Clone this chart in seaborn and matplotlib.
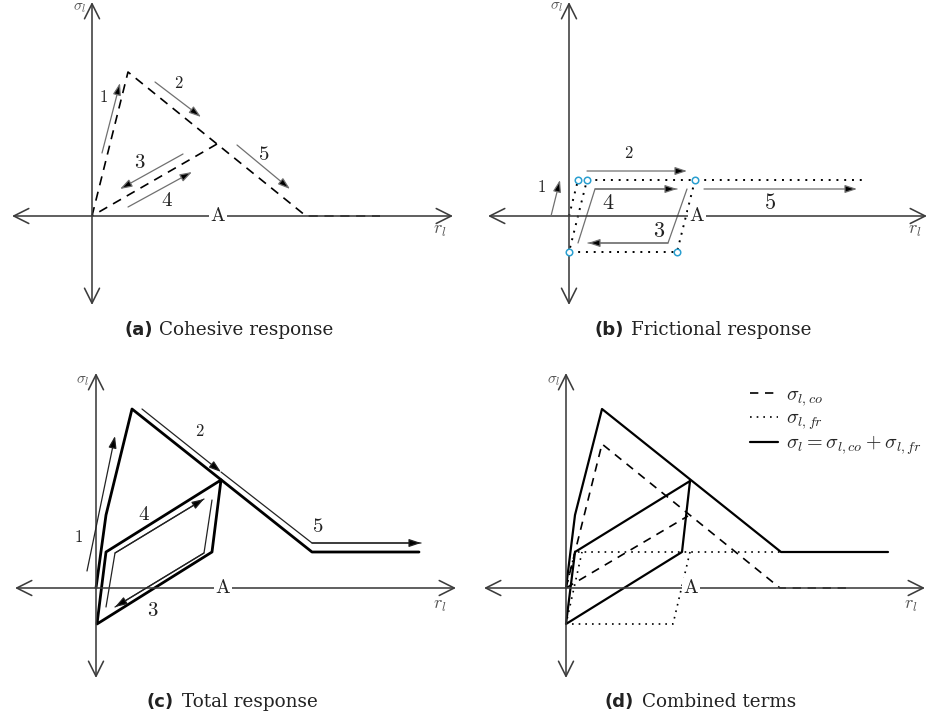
import matplotlib
matplotlib.use("Agg")
import matplotlib.pyplot as plt
import seaborn as sns

sns.set_theme(style="white")
plt.rcParams["mathtext.fontset"] = "cm"
plt.rcParams["font.family"] = ["DejaVu Serif"]

# ---------------- data (model units, origin at axis crossing) ----------------
# (a) cohesive response
coh_r = [0, 3.6, 21.4, 28.8]
coh_s = [0, 14.4, 0, 0]
coh_unl_r = [12.5, 0]
coh_unl_s = [7.2, 0]

# (b) frictional response
fr_load_r = [0, 0.9, 29.4]
fr_load_s = [0, 3.6, 3.6]
fr_cyc_r = [12.6, 10.8, 0, 1.8]
fr_cyc_s = [3.6, -3.6, -3.6, 3.6]
fr_pts_r = [0.9, 1.8, 12.6, 0, 10.8]
fr_pts_s = [3.6, 3.6, 3.6, -3.6, -3.6]

# (c) total response
tot_r = [0, 1.0, 3.6, 21.6, 32.3]
tot_s = [0, 7.3, 17.9, 3.6, 3.6]
tot_cyc_r = [12.5, 11.6, 0.1, 1.0, 12.5]
tot_cyc_s = [10.8, 3.6, -3.6, 3.6, 10.8]

# (d) combined terms
d_tot_r = [0, 0.9, 3.6, 21.5, 32.2]
d_tot_s = [0, 7.3, 17.9, 3.6, 3.6]
d_cyc_r = [12.4, 11.6, 0, 0.9, 12.4]
d_cyc_s = [10.7, 3.6, -3.6, 3.6, 10.7]
d_coh_r = [0, 3.6, 21.4, 28.6]
d_coh_s = [0, 14.4, 0, 0]
d_coh_unl_r = [0, 12.2]
d_coh_unl_s = [0, 7.2]
d_fr_r = [0, 0.9, 21.5]
d_fr_s = [0, 3.6, 3.6]
d_fr_cyc_r = [12.4, 10.7, 0, 1.6]
d_fr_cyc_s = [3.6, -3.6, -3.6, 3.6]

legend_labels = [r"$\sigma_{l,co}$", r"$\sigma_{l,fr}$",
                 r"$\sigma_l = \sigma_{l,co} + \sigma_{l,fr}$"]
captions = [("(a)", "Cohesive response"), ("(b)", "Frictional response"),
            ("(c)", "Total response"), ("(d)", "Combined terms")]

# path annotations: (x list, y list, label, label pos, size)
arrows_a = [([1.0, 2.8], [6.3, 13.3], "1", (1.1, 11.9), 12),
            ([6.3, 10.9], [13.4, 9.9], "2", (8.7, 13.2), 12),
            ([9.1, 2.8], [6.2, 2.7], "3", (4.8, 5.3), 15),
            ([3.6, 10.0], [0.9, 4.4], "4", (7.5, 1.6), 15),
            ([14.5, 19.8], [7.1, 2.7], "5", (17.2, 6.1), 15)]
arrows_b = [([-1.8, -0.9], [0, 3.6], "1", (-2.8, 2.9), 12),
            ([1.8, 11.8], [4.5, 4.5], "2", (6.0, 6.2), 12),
            ([11.8, 9.9, 1.9], [2.7, -2.7, -2.7], "3", (9.0, -1.5), 16),
            ([0.9, 2.6, 10.8], [-2.7, 2.7, 2.7], "4", (3.9, 1.3), 16),
            ([13.5, 28.8], [2.7, 2.7], "5", (20.1, 1.3), 16)]
arrows_c = [([-0.9, 1.9], [1.7, 15.2], "1", (-1.8, 5.0), 12),
            ([4.6, 12.5], [17.9, 11.6], "2", (10.4, 15.7), 12),
            ([12.5, 21.6, 32.5], [11.6, 4.5, 4.5], "5", (22.2, 6.1), 15),
            ([11.6, 10.8, 1.9], [8.8, 3.5, -1.9], "3", (5.7, -2.3), 15),
            ([1.0, 1.9, 10.8], [-1.9, 3.5, 8.9], "4", (4.8, 7.4), 15)]

# ---------------- figure ----------------
W, H = 927, 722
fig = plt.figure(figsize=(W / 100, H / 100), dpi=100)
SC = 10.0


def make_panel(px0, py0, px1, py1, ox, oy):
    ax = fig.add_axes([px0 / W, 1 - py1 / H, (px1 - px0) / W, (py1 - py0) / H])
    ax.set_xlim((px0 - ox) / SC, (px1 - ox) / SC)
    ax.set_ylim((oy - py1) / SC, (oy - py0) / SC)
    ax.set_axis_off()
    return ax


def draw_axes(ax, xl, xr, yb, yt, a_x, rl_pos, sl_pos):
    kw = dict(arrowstyle="<->,head_length=0.9,head_width=0.45",
              color="#3c3c3c", lw=1.15, shrinkA=0, shrinkB=0)
    ax.annotate("", xy=(xr, 0), xytext=(xl, 0), arrowprops=kw)
    ax.annotate("", xy=(0, yt), xytext=(0, yb), arrowprops=kw)
    ax.text(a_x, 0, r"$\mathrm{A}$", ha="center", va="center", fontsize=14,
            color="#222222", bbox=dict(fc="white", ec="none", pad=0.6), zorder=5)
    ax.text(rl_pos[0], rl_pos[1], r"$r_l$", ha="center", va="center",
            fontsize=13, color="#555555")
    ax.text(sl_pos[0], sl_pos[1], r"$\sigma_l$", ha="center", va="center",
            fontsize=11, color="#555555")


def curve(ax, xs, ys, **kw):
    sns.lineplot(x=xs, y=ys, sort=False, estimator=None, ax=ax, **kw)


def path_arrows(ax, items, color="#707070", lw=0.9):
    for xs, ys, lab, lpos, size in items:
        if len(xs) > 2:
            curve(ax, xs, ys, color=color, lw=lw)
        ax.annotate("", xy=(xs[-1], ys[-1]), xytext=(xs[-2], ys[-2]),
                    arrowprops=dict(arrowstyle="-|>,head_length=0.6,head_width=0.2",
                                    ec=color, fc="black", lw=lw,
                                    shrinkA=0, shrinkB=0))
        ax.text(lpos[0], lpos[1], "$" + lab + "$", ha="center", va="center",
                fontsize=size, color="#222222")


def caption(xl, xr, y, tag, text):
    fig.text(xl / W, 1 - y / H, tag, ha="right", va="center", fontsize=13,
             fontweight="bold", family="DejaVu Sans", color="#222222")
    fig.text(xr / W, 1 - y / H, text, ha="left", va="center", fontsize=13.2,
             family="DejaVu Serif", color="#222222")


# (a)
axA = make_panel(0, 0, 460, 315, 92, 216)
draw_axes(axA, -8.0, 36.1, -8.9, 21.4, 12.6, (34.8, -1.4), (-1.2, 20.8))
curve(axA, coh_r, coh_s, color="black", lw=1.2, dashes=(5.5, 4))
curve(axA, coh_unl_r, coh_unl_s, color="black", lw=1.2, dashes=(5.5, 4))
path_arrows(axA, arrows_a)

# (b)
axB = make_panel(460, 0, 927, 315, 569, 216)
draw_axes(axB, -8.1, 35.8, -8.9, 21.4, 12.8, (34.6, -1.4), (-1.2, 20.9))
curve(axB, fr_load_r, fr_load_s, color="black", lw=1.4, dashes=(1, 3))
curve(axB, fr_cyc_r, fr_cyc_s, color="black", lw=1.4, dashes=(1, 3))
sns.scatterplot(x=fr_pts_r, y=fr_pts_s, ax=axB, s=22, facecolor="white",
                edgecolor="#2a9fd0", linewidth=1.1, zorder=6)
path_arrows(axB, arrows_b)

# (c)
axC = make_panel(0, 362, 460, 690, 96, 588)
draw_axes(axC, -8.1, 36.0, -9.0, 21.5, 12.7, (34.4, -1.7), (-1.3, 20.7))
curve(axC, tot_r, tot_s, color="black", lw=2.0)
curve(axC, tot_cyc_r, tot_cyc_s, color="black", lw=2.0)
path_arrows(axC, arrows_c, color="#222222", lw=0.9)

# (d)
axD = make_panel(460, 362, 927, 690, 566, 588)
draw_axes(axD, -8.2, 35.9, -9.0, 21.5, 12.5, (34.5, -1.7), (-1.2, 20.7))
curve(axD, d_coh_r, d_coh_s, color="black", lw=1.2, dashes=(5, 4),
      label=legend_labels[0])
curve(axD, d_coh_unl_r, d_coh_unl_s, color="black", lw=1.2, dashes=(5, 4))
curve(axD, d_fr_r, d_fr_s, color="black", lw=1.2, dashes=(1, 3),
      label=legend_labels[1])
curve(axD, d_fr_cyc_r, d_fr_cyc_s, color="black", lw=1.2, dashes=(1, 3))
curve(axD, d_tot_r, d_tot_s, color="black", lw=1.6, label=legend_labels[2])
curve(axD, d_cyc_r, d_cyc_s, color="black", lw=1.6)
handles, labels = axD.get_legend_handles_labels()
order = [labels.index(l) for l in legend_labels]
leg = axD.legend([handles[i] for i in order], [labels[i] for i in order],
                 loc="upper left", bbox_to_anchor=(0.62, 0.93), frameon=False,
                 fontsize=14.5, handlelength=1.4, handletextpad=0.4,
                 labelspacing=0.05, borderpad=0, borderaxespad=0)

caption(153, 159, 330, *captions[0])
caption(624, 631, 330, *captions[1])
caption(174, 182, 702, *captions[2])
caption(634, 642, 702, *captions[3])

fig.savefig("out.png", dpi=100)
